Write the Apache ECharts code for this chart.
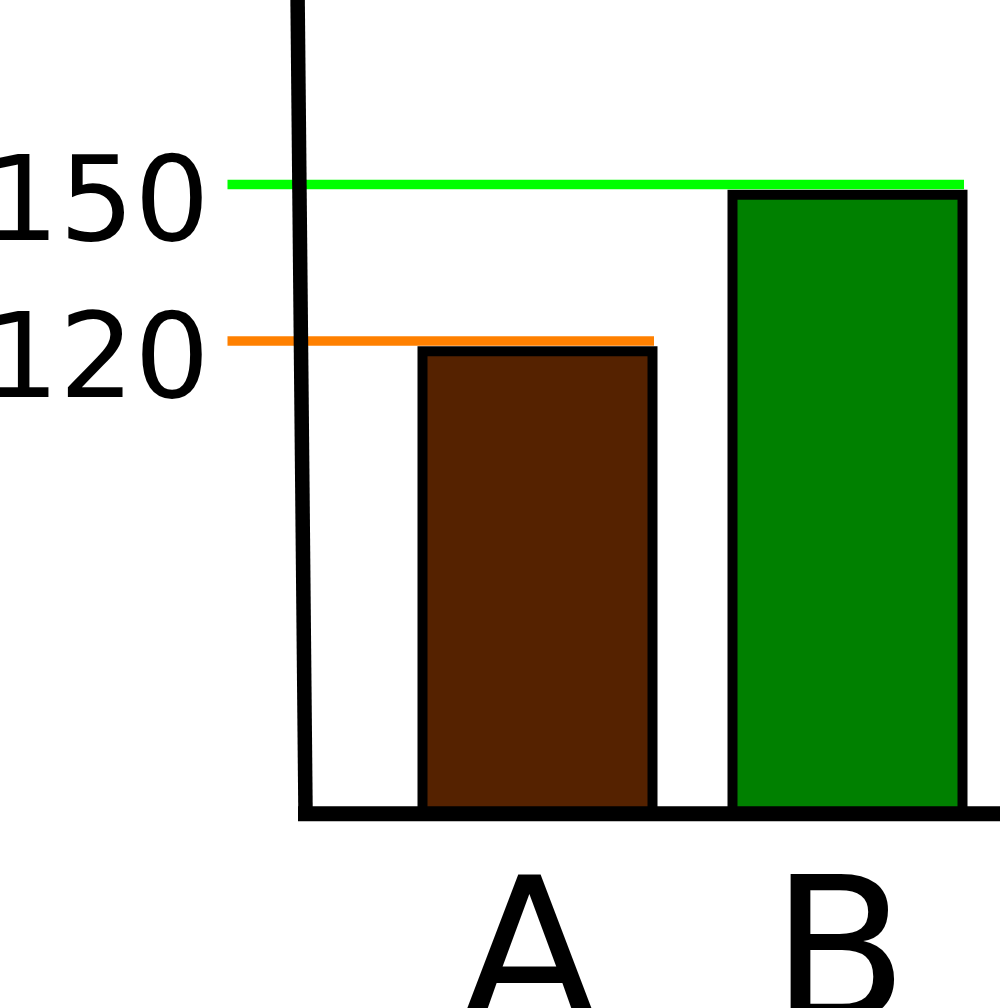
<!DOCTYPE html>
<html>
<head>
<meta charset="utf-8">
<script src="https://cdn.jsdelivr.net/npm/echarts@6/dist/echarts.min.js"></script>
<style>
  html, body { margin: 0; padding: 0; background: #fff; }
  #container { width: 1000px; height: 1008px; }
</style>
</head>
<body>
<div id="container"></div>
<script>
// data
var categories = ['A', 'B'];
var barValues = [119, 149];
var barColors = ['#552200', '#008000'];
var refValues = [120, 150];
var refColors = ['#ff8000', '#00ff00'];
var tickLabels = [120, 150];

var dom = document.getElementById('container');
var myChart = echarts.init(dom, null, { renderer: 'canvas' });

var option = {
    animation: false,
    backgroundColor: '#fff',
    grid: { left: 382.5, right: -2.5, top: 28, bottom: 192.3, containLabel: false, outerBoundsMode: 'none' },
    xAxis: {
        type: 'category',
        data: categories,
        axisLine: { show: false },
        axisTick: { show: false },
        axisLabel: {
            margin: 52,
            formatter: function (v) { return '{t|' + v + '}'; },
            rich: {
                t: {
                    fontFamily: 'DejaVu Sans',
                    fontSize: 200,
                    color: '#000',
                    padding: [0, 16, 0, 0]
                }
            }
        }
    },
    yAxis: {
        type: 'value',
        min: 29,
        max: 180,
        axisLine: { show: false },
        axisTick: { show: false },
        splitLine: { show: false },
        axisLabel: {
            customValues: tickLabels,
            margin: 173,
            fontFamily: 'DejaVu Sans',
            fontSize: 118,
            color: '#000',
            verticalAlign: 'top',
            lineHeight: 50
        }
    },
    series: [
        {
            type: 'bar',
            barWidth: 240,
            data: barValues.map(function (v, i) {
                return {
                    value: v,
                    itemStyle: { color: barColors[i], borderColor: '#000', borderWidth: 10 }
                };
            })
        },
        {
            type: 'custom',
            z: 3,
            data: refValues.map(function (v, i) { return [i, v]; }),
            renderItem: function (params, api) {
                var end = api.coord([api.value(0), api.value(1)]);
                var first = api.coord([0, api.value(1)]);
                var band = api.size([1, 0])[0];
                return {
                    type: 'line',
                    shape: { x1: first[0] - band, y1: end[1], x2: end[0] + 116.5, y2: end[1] },
                    style: { stroke: refColors[params.dataIndex], lineWidth: 9.5 }
                };
            }
        }
    ]
};

myChart.setOption(option);

// hand-drawn looking axes, placed from the chart's own scale
var base = myChart.convertToPixel({ yAxisIndex: 0 }, 29) - 2;
myChart.setOption({
    graphic: [
        {
            type: 'line', z: 100,
            shape: { x1: 297.6, y1: 0, x2: 305.6, y2: base + 7 },
            style: { stroke: '#000', lineWidth: 14.5 }
        },
        {
            type: 'line', z: 100,
            shape: { x1: 298, y1: base, x2: 1000, y2: base },
            style: { stroke: '#000', lineWidth: 15 }
        }
    ]
});

window.addEventListener('resize', myChart.resize);
</script>
</body>
</html>
